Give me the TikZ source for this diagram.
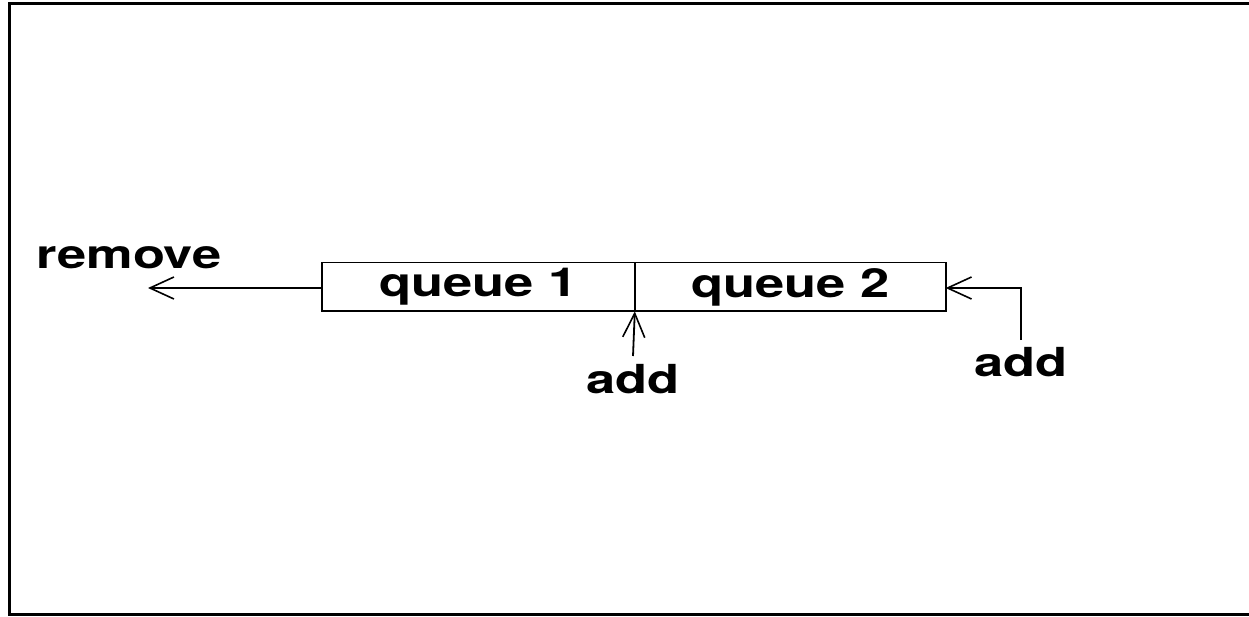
\documentclass[tikz,border=0pt]{standalone}
\usepackage{fontspec}
\setmainfont{TeX Gyre Heros}[FakeStretch=1.31]
\usetikzlibrary{arrows.meta}
\tikzset{
  lbl/.style={font=\fontsize{40}{40}\selectfont\bfseries, inner sep=0pt},
  conn/.style={line width=1.8pt, -{Straight Barb[length=24pt,width=22pt,line width=1.6pt]}},
  box/.style={line width=1.8pt, minimum height=47pt, inner sep=0pt, anchor=west},
}
\begin{document}
\begin{tikzpicture}[x=1pt,y=-1pt]
\useasboundingbox (0,0) rectangle (1249,617);
\draw[line width=3pt] (1260,4) -- (9,4) -- (9,614) -- (1260,614);
\node[box, minimum width=311pt] (q1) at (322,287) {};
\node[box, minimum width=309pt] (q2) at (q1.east) {};
\draw[line width=1.8pt] (q1.north west) rectangle (q2.south east);
\draw[line width=1.8pt] (q1.north east) -- (q1.south east);
\node[lbl] at (q1.center) {queue 1};
\node[lbl] at (q2.center) {queue 2};
\node[lbl] (rem) at (129,258) {remove};
\coordinate (remtip) at (148,288);
\draw[conn] (q1.west |- remtip) -- (remtip);
\node[lbl] (add1) at (633,379) {add};
\coordinate (a1s) at (633,356);
\draw[conn] (a1s) -- (q1.south east);
\node[lbl] (add2) at (1021,362) {add};
\coordinate (a2s) at (1021,340);
\draw[conn] (a2s) |- (q2.east |- remtip);
\end{tikzpicture}
\end{document}
